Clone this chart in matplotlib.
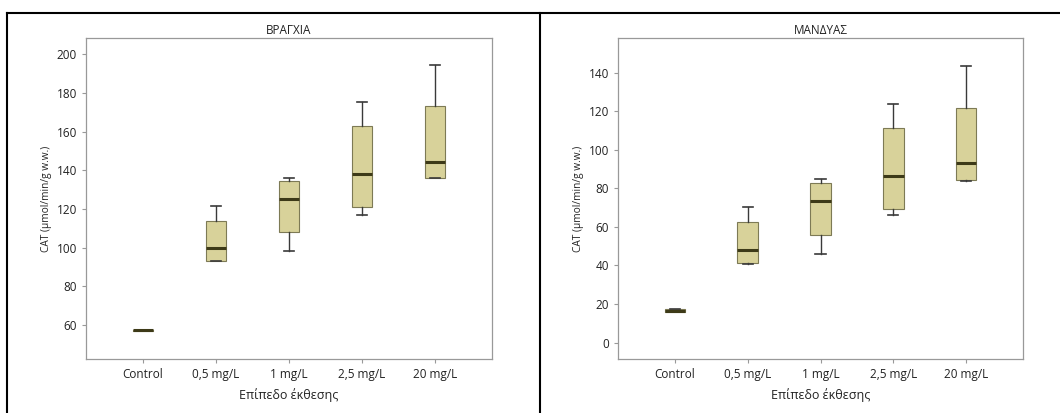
import matplotlib
matplotlib.use("Agg")
import matplotlib.pyplot as plt
from matplotlib.lines import Line2D

categories = ["Control", "0,5 mg/L", "1 mg/L", "2,5 mg/L", "20 mg/L"]

# Gills (ΒΡΑΓΧΙΑ)
gill_whislo = [56.8, 93.0, 98.0, 117.0, 136.0]
gill_q1 = [56.8, 93.2, 108.0, 121.0, 136.2]
gill_med = [57.2, 100.0, 125.0, 138.0, 144.5]
gill_q3 = [57.5, 114.0, 134.5, 163.0, 173.0]
gill_whishi = [57.5, 121.5, 136.0, 175.5, 194.5]

# Mantle (ΜΑΝΔΥΑΣ)
mant_whislo = [16.0, 41.0, 46.0, 66.0, 84.0]
mant_q1 = [16.0, 41.3, 56.0, 69.5, 84.5]
mant_med = [16.6, 48.2, 73.5, 86.5, 93.0]
mant_q3 = [17.3, 62.5, 83.0, 111.5, 121.5]
mant_whishi = [17.5, 70.5, 85.0, 124.0, 143.5]

plt.rcParams['font.family'] = ['Open Sans', 'DejaVu Sans']

fig = plt.figure(figsize=(10.6, 4.13), dpi=100)

def panel(rect, title, wlo, q1, med, q3, whi, ylim, yticks):
    ax = fig.add_axes(rect)
    stats = []
    for i in range(len(categories)):
        stats.append(dict(whislo=wlo[i], q1=q1[i], med=med[i], q3=q3[i],
                          whishi=whi[i], label=categories[i]))
    ax.bxp(stats, positions=range(1, 6), widths=0.28, patch_artist=True,
           showfliers=False,
           boxprops=dict(facecolor="#d8d29a", edgecolor="#7d7a55", linewidth=0.8),
           medianprops=dict(color="#3d3a18", linewidth=2.2),
           whiskerprops=dict(color="#3a3a3a", linewidth=1.0),
           capprops=dict(color="#3a3a3a", linewidth=1.2),
           capwidths=0.14)
    ax.set_xlim(0.22, 5.78)
    ax.set_ylim(*ylim)
    ax.set_yticks(yticks)
    ax.set_xticks(range(1, 6))
    ax.set_xticklabels(categories)
    for s in ax.spines.values():
        s.set_color("#999999")
        s.set_linewidth(0.9)
    ax.tick_params(axis="both", colors="#999999", labelcolor="#222222",
                   labelsize=8.5, length=3, width=0.8)
    ax.set_title(title, fontsize=8.5, color="#222222", pad=3)
    ax.set_xlabel("Επίπεδο έκθεσης", fontsize=9, color="#222222", labelpad=5)
    ax.set_ylabel("CAT (μmol/min/g w.w.)", fontsize=7.3, color="#222222", labelpad=3)
    return ax

panel([86/1060, 1 - 359/413, 406/1060, 321/413], "ΒΡΑΓΧΙΑ",
      gill_whislo, gill_q1, gill_med, gill_q3, gill_whishi,
      (42.4, 208.4), [60, 80, 100, 120, 140, 160, 180, 200])
panel([618/1060, 1 - 359/413, 405/1060, 321/413], "ΜΑΝΔΥΑΣ",
      mant_whislo, mant_q1, mant_med, mant_q3, mant_whishi,
      (-8.5, 158), [0, 20, 40, 60, 80, 100, 120, 140])

# table-like frame lines
ytop = 1 - 12.5 / 413
fig.add_artist(Line2D([7 / 1060, 1], [ytop, ytop], color="black", lw=1.5))
fig.add_artist(Line2D([7 / 1060, 7 / 1060], [0, ytop], color="black", lw=1.5))
fig.add_artist(Line2D([540 / 1060, 540 / 1060], [0, ytop], color="black", lw=1.5))

fig.savefig("out.png", dpi=100)
